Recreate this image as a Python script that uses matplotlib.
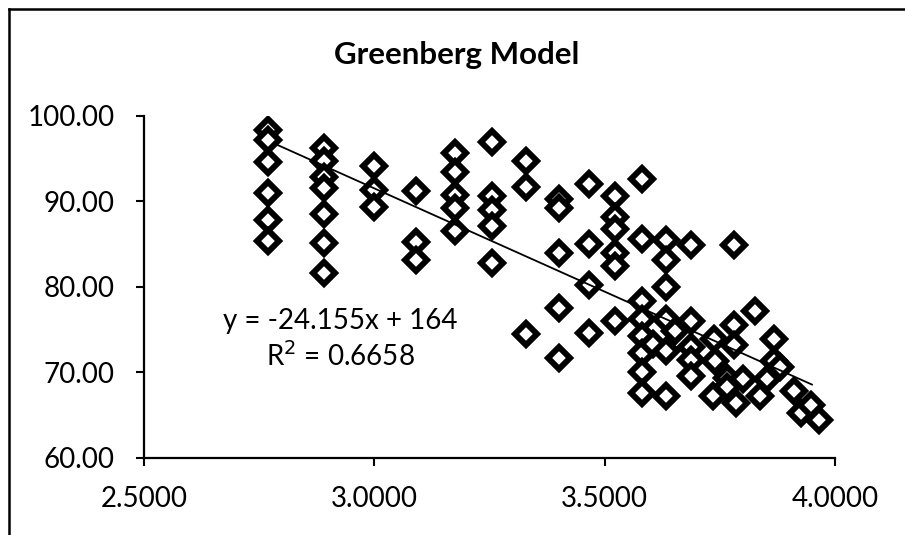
import matplotlib
matplotlib.use("Agg")
import matplotlib.pyplot as plt
from matplotlib.lines import Line2D
import numpy as np

plt.rcParams["font.family"] = ["Lato", "DejaVu Sans"]

# speed-related x values and speed y values
x_vals = [
    2.77, 2.77, 2.77, 2.77, 2.77, 2.77,
    2.89, 2.89, 2.89, 2.89, 2.89, 2.89, 2.89,
    3.00, 3.00, 3.00,
    3.09, 3.09, 3.09,
    3.175, 3.175, 3.175, 3.175, 3.175,
    3.255, 3.255, 3.255, 3.255, 3.255,
    3.33, 3.33, 3.33,
    3.40, 3.40, 3.40, 3.40, 3.40,
    3.465, 3.465, 3.465, 3.465,
    3.522, 3.522, 3.522, 3.522, 3.522, 3.522,
    3.582, 3.582, 3.582, 3.582, 3.582, 3.582, 3.582, 3.582,
    3.606,
    3.634, 3.634, 3.634, 3.634, 3.634, 3.634,
    3.652,
    3.687, 3.687, 3.687, 3.687, 3.687,
    3.738, 3.740, 3.735,
    3.765, 3.765,
    3.781, 3.781, 3.781, 3.801, 3.786,
    3.827, 3.837, 3.852,
    3.868, 3.868, 3.880,
    3.910, 3.927, 3.948, 3.965,
]
y_vals = [
    98.4, 97.2, 94.6, 91.0, 87.8, 85.4,
    96.3, 94.7, 92.9, 91.6, 88.5, 85.1, 81.6,
    94.2, 91.4, 89.4,
    91.2, 85.3, 83.2,
    95.7, 93.5, 90.8, 89.2, 86.5,
    97.0, 90.6, 89.0, 87.1, 82.8,
    94.7, 91.7, 74.5,
    90.3, 89.2, 84.0, 77.6, 71.7,
    92.1, 85.0, 80.2, 74.6,
    90.7, 88.2, 86.8, 84.0, 82.5, 76.0,
    92.6, 85.6, 78.4, 76.3, 74.3, 72.3, 70.0, 67.6,
    73.3,
    85.5, 83.2, 80.0, 76.2, 72.5, 67.2,
    74.8,
    84.9, 76.0, 73.0, 71.5, 69.6,
    73.9, 71.4, 67.3,
    69.3, 68.3,
    84.9, 75.5, 73.2, 69.2, 66.4,
    77.2, 67.3, 69.2,
    73.9, 71.4, 70.6,
    67.8, 65.3, 66.2, 64.5,
]

slope = -24.155
intercept = 164.0
r2 = 0.6658

x_ticks = [2.5, 3.0, 3.5, 4.0]
y_ticks = [60, 70, 80, 90, 100]

fig = plt.figure(figsize=(9.05, 5.35), dpi=100)
ax = fig.add_axes([144 / 905, 77 / 535, 691 / 905, 342 / 535])

ax.plot(x_vals, y_vals, linestyle="none", marker="D", markersize=11.5,
        markerfacecolor="white", markeredgecolor="black",
        markeredgewidth=4.3, zorder=3)

# linear trendline (Excel)
xl = np.array([min(x_vals) + 0.02, max(x_vals) - 0.015])
ax.plot(xl, slope * xl + intercept, color="black", lw=1.3, zorder=4)

ax.text(0.284, 0.347,
        f"y = {slope:.3f}x + {intercept:g}\nR$^2$ = {r2}",
        transform=ax.transAxes, ha="center", va="center",
        fontsize=20, linespacing=1.3)

ax.set_xlim(2.5, 4.0)
ax.set_ylim(60, 100)
ax.set_xticks(x_ticks)
ax.set_yticks(y_ticks)
ax.set_xticklabels([f"{v:.4f}" for v in x_ticks])
ax.set_yticklabels([f"{v:.2f}" for v in y_ticks])
ax.tick_params(axis="both", direction="out", length=6, width=1.5,
               labelsize=20)
ax.tick_params(axis="x", pad=14)
ax.tick_params(axis="y", pad=15)
for s in ("top", "right"):
    ax.spines[s].set_visible(False)
for s in ("left", "bottom"):
    ax.spines[s].set_linewidth(1.6)

fig.text(457 / 905, 1 - 55 / 535, "Greenberg Model", ha="center",
         va="center", fontsize=22.5, fontweight="bold")

# chart area border (only top and left visible in the scan)
fig.add_artist(Line2D([9 / 905, 1.0], [1 - 9 / 535, 1 - 9 / 535],
                      transform=fig.transFigure, color="black", lw=1.8))
fig.add_artist(Line2D([9 / 905, 9 / 905], [0.0, 1 - 9 / 535],
                      transform=fig.transFigure, color="black", lw=1.8))

fig.savefig("out.png", dpi=100, facecolor="white")
